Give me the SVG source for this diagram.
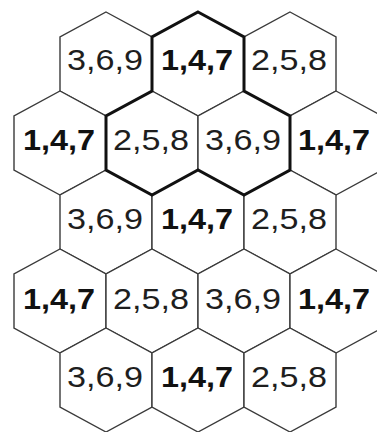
<svg xmlns="http://www.w3.org/2000/svg" width="377" height="432" viewBox="0 0 377 432">
<defs>
<style>
.hex{fill:#fff;stroke:#3a3a3a;stroke-width:1.4;stroke-linejoin:miter}
.t{font-family:"Liberation Sans",Arial,sans-serif;font-size:29px;fill:#1e1e1e;text-anchor:middle}
.b{font-weight:bold;fill:#111}
.hl{fill:none;stroke:#111;stroke-width:3;stroke-linejoin:miter}
</style>
<polygon id="h" class="hex" points="0,0 46,25 46,79 0,104 -46,79 -46,25"/>
</defs>
<rect width="377" height="432" fill="#fff"/>
<g id="r1c1" transform="translate(106,12)"><use href="#h"/><text class="t" x="-1" y="58" textLength="76" lengthAdjust="spacingAndGlyphs">3,6,9</text></g>
<g id="r1c2" transform="translate(198,12)"><use href="#h"/><text class="t b" x="-1" y="58" textLength="72" lengthAdjust="spacingAndGlyphs">1,4,7</text></g>
<g id="r1c3" transform="translate(290,12)"><use href="#h"/><text class="t" x="-1" y="58" textLength="76" lengthAdjust="spacingAndGlyphs">2,5,8</text></g>
<g id="r2c1" transform="translate(60,91)"><use href="#h"/><text class="t b" x="-1" y="58.5" textLength="72" lengthAdjust="spacingAndGlyphs">1,4,7</text></g>
<g id="r2c2" transform="translate(152,91)"><use href="#h"/><text class="t" x="-1" y="58.5" textLength="76" lengthAdjust="spacingAndGlyphs">2,5,8</text></g>
<g id="r2c3" transform="translate(244,91)"><use href="#h"/><text class="t" x="-1" y="58.5" textLength="76" lengthAdjust="spacingAndGlyphs">3,6,9</text></g>
<g id="r2c4" transform="translate(336,91)"><use href="#h"/><text class="t b" x="-2" y="58.5" textLength="72" lengthAdjust="spacingAndGlyphs">1,4,7</text></g>
<g id="r3c1" transform="translate(106,170)"><use href="#h"/><text class="t" x="-1" y="58.5" textLength="76" lengthAdjust="spacingAndGlyphs">3,6,9</text></g>
<g id="r3c2" transform="translate(198,170)"><use href="#h"/><text class="t b" x="-1" y="58.5" textLength="72" lengthAdjust="spacingAndGlyphs">1,4,7</text></g>
<g id="r3c3" transform="translate(290,170)"><use href="#h"/><text class="t" x="-1" y="58.5" textLength="76" lengthAdjust="spacingAndGlyphs">2,5,8</text></g>
<g id="r4c1" transform="translate(60,249)"><use href="#h"/><text class="t b" x="-1" y="60" textLength="72" lengthAdjust="spacingAndGlyphs">1,4,7</text></g>
<g id="r4c2" transform="translate(152,249)"><use href="#h"/><text class="t" x="-1" y="60" textLength="76" lengthAdjust="spacingAndGlyphs">2,5,8</text></g>
<g id="r4c3" transform="translate(244,249)"><use href="#h"/><text class="t" x="-1" y="60" textLength="76" lengthAdjust="spacingAndGlyphs">3,6,9</text></g>
<g id="r4c4" transform="translate(336,249)"><use href="#h"/><text class="t b" x="-2" y="60" textLength="72" lengthAdjust="spacingAndGlyphs">1,4,7</text></g>
<g id="r5c1" transform="translate(106,328)"><use href="#h"/><text class="t" x="-1" y="59" textLength="76" lengthAdjust="spacingAndGlyphs">3,6,9</text></g>
<g id="r5c2" transform="translate(198,328)"><use href="#h"/><text class="t b" x="-1" y="59" textLength="72" lengthAdjust="spacingAndGlyphs">1,4,7</text></g>
<g id="r5c3" transform="translate(290,328)"><use href="#h"/><text class="t" x="-1" y="59" textLength="76" lengthAdjust="spacingAndGlyphs">2,5,8</text></g>
<g id="connectors">
<polygon id="highlight" class="hl" points="198,12 244,37 244,91 290,116 290,170 244,195 198,170 152,195 106,170 106,116 152,91 152,37"/>
</g>
</svg>
